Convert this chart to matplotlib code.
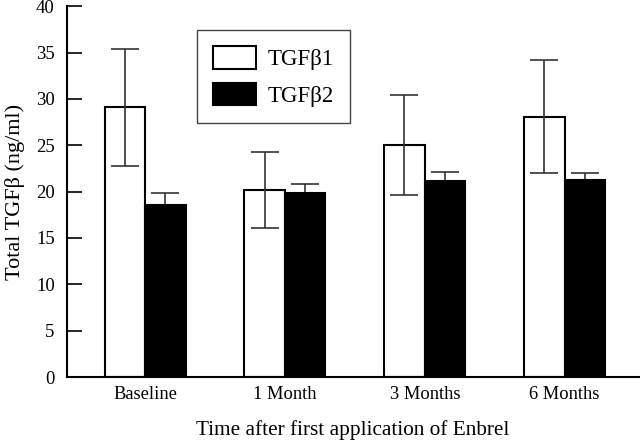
import numpy as np
import matplotlib.pyplot as plt

plt.rcParams['font.family'] = ['Liberation Serif', 'DejaVu Serif']

# data
groups = ['Baseline', '1 Month', '3 Months', '6 Months']
tgfb1 = [29.1, 20.2, 25.0, 28.1]
tgfb1_err = [6.3, 4.1, 5.4, 6.1]
tgfb2 = [18.6, 19.9, 21.1, 21.2]
tgfb2_err = [1.2, 0.9, 1.0, 0.8]

fig = plt.figure(figsize=(6.4, 4.4), dpi=100)
ax = fig.add_axes([0.105, 0.143, 0.893, 0.843])

x = np.arange(len(groups))
w = 0.29
ax.bar(x - w / 2, tgfb1, w, color='white', edgecolor='black', linewidth=1.5,
       label='TGFβ1', zorder=2)
ax.bar(x + w / 2, tgfb2, w, color='black', edgecolor='black', linewidth=1.5,
       label='TGFβ2', zorder=2)
ax.errorbar(x - w / 2, tgfb1, yerr=tgfb1_err, fmt='none', ecolor='#333333',
            elinewidth=1.2, capsize=10, capthick=1.2, zorder=3)
ax.errorbar(x + w / 2, tgfb2, yerr=[np.zeros(4), tgfb2_err], fmt='none',
            ecolor='#333333', elinewidth=1.2, capsize=10, capthick=1.2, zorder=1)

ax.set_xlim(-0.557, 3.53)
ax.set_ylim(0, 40)
ax.set_yticks(np.arange(0, 41, 5))
ax.set_xticks(x)
ax.set_xticklabels(groups, fontsize=13.3)
ax.tick_params(axis='x', length=0, pad=6.5)
ax.tick_params(axis='y', direction='in', length=11, width=1.2, labelsize=13.5, pad=9)
for s in ['top', 'right']:
    ax.spines[s].set_visible(False)
for s in ['left', 'bottom']:
    ax.spines[s].set_linewidth(1.5)

ax.set_ylabel('Total TGFβ (ng/ml)', fontsize=16)
ax.yaxis.set_label_coords(-0.073, 0.5)
ax.set_xlabel('Time after first application of Enbrel', fontsize=15.3, labelpad=12)

leg = ax.legend(loc='upper left', bbox_to_anchor=(0.227, 0.935), borderaxespad=0,
                fontsize=16.5, fancybox=False, edgecolor='#444444', framealpha=1,
                handlelength=1.88, handleheight=1.13, borderpad=0.7,
                labelspacing=0.55, handletextpad=0.52)
leg.get_frame().set_linewidth(1.0)

fig.savefig('out.png', dpi=100)
